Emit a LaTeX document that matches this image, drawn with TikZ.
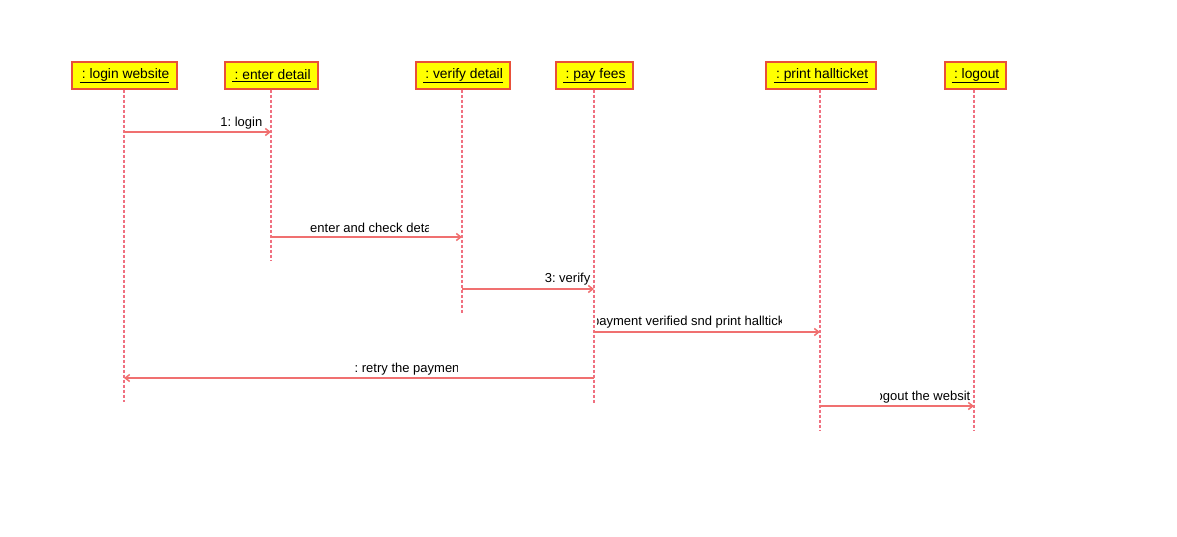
\documentclass[tikz,border=0pt]{standalone}
\usepackage{fontspec}
\setmainfont{Liberation Sans}
\usetikzlibrary{arrows.meta}
\definecolor{boxfill}{HTML}{FFFF00}
\definecolor{boxline}{HTML}{E8503A}
\definecolor{msgline}{HTML}{F07070}
\definecolor{lifeline}{HTML}{F07080}
\newcommand{\objname}[1]{\raisebox{-2pt}{\underline{\,#1}}}
\tikzset{
  obj/.style={draw=boxline, line width=1.3pt, fill=boxfill, minimum height=27pt, inner sep=0pt, font=\fontsize{13.8}{16}\selectfont\frenchspacing},
  life/.style={draw=lifeline, line width=1.3pt, dash pattern=on 3pt off 2pt},
  msg/.style={draw=msgline, line width=1.5pt, -{Straight Barb[length=4.5pt,width=7pt]}},
  lbl/.style={font=\fontsize{13}{15}\selectfont\frenchspacing, inner sep=0pt, text=black}
}
\begin{document}
\begin{tikzpicture}[x=1pt,y=-1pt]
\useasboundingbox (0,0) rectangle (1177,537);
% objects
\node[obj, minimum width=105pt] (o1) at (124.5,75.5) {\objname{: login website}};
\node[obj, minimum width=93pt] (o2) at (271.5,75.5) {\objname{: enter detail}};
\node[obj, minimum width=94pt] (o3) at (463,75.5) {\objname{: verify detail}};
\node[obj, minimum width=77pt] (o4) at (594.5,75.5) {\objname{: pay fees}};
\node[obj, minimum width=110pt] (o5) at (821,75.5) {\objname{: print hallticket}};
\node[obj, minimum width=61pt] (o6) at (975.5,75.5) {\objname{: logout}};
% lifeline ends
\coordinate (e1) at (124,402);
\coordinate (e2) at (271,260);
\coordinate (e3) at (462,313);
\coordinate (e4) at (594,403);
\coordinate (e5) at (820,430);
\coordinate (e6) at (974,430);
\draw[life] (o1.south -| e1) -- (e1);
\draw[life] (o2.south -| e2) -- (e2);
\draw[life] (o3.south -| e3) -- (e3);
\draw[life] (o4.south -| e4) -- (e4);
\draw[life] (o5.south -| e5) -- (e5);
\draw[life] (o6.south -| e6) -- (e6);
% message points
\coordinate (m1a) at (124,132); \coordinate (m1b) at (271,132);
\coordinate (m2a) at (271,237); \coordinate (m2b) at (462,237);
\coordinate (m3a) at (462,289); \coordinate (m3b) at (594,289);
\coordinate (m4a) at (594,332); \coordinate (m4b) at (820,332);
\coordinate (m5a) at (594,378); \coordinate (m5b) at (124,378);
\coordinate (m6a) at (820,406); \coordinate (m6b) at (974,406);
\draw[msg] (m1a) -- (m1b);
\draw[msg] (m2a) -- (m2b);
\draw[msg] (m3a) -- (m3b);
\draw[msg] (m4a) -- (m4b);
\draw[msg] (m5a) -- (m5b);
\draw[msg] (m6a) -- (m6b);
% labels
\node[lbl, anchor=east] (l1) at (262.5,123) {1: login};
\begin{scope}
\clip (300,210) rectangle (428.5,235);
\node[lbl, anchor=west] (l2) at (310,228) {enter and check details};
\end{scope}
\node[lbl, anchor=east] (l3) at (590.5,279) {3: verify};
\begin{scope}
\clip (597,305) rectangle (781,330);
\node[lbl, anchor=west] (l4) at (592,322.5) {payment verified snd print hallticket};
\end{scope}
\begin{scope}
\clip (340,352) rectangle (457.5,376);
\node[lbl, anchor=west] (l5) at (354.5,369) {: retry the payment};
\end{scope}
\begin{scope}
\clip (880,382) rectangle (975,404);
\node[lbl, anchor=east] (l6) at (970.5,397) {logout the websit};
\end{scope}
\end{tikzpicture}
\end{document}
